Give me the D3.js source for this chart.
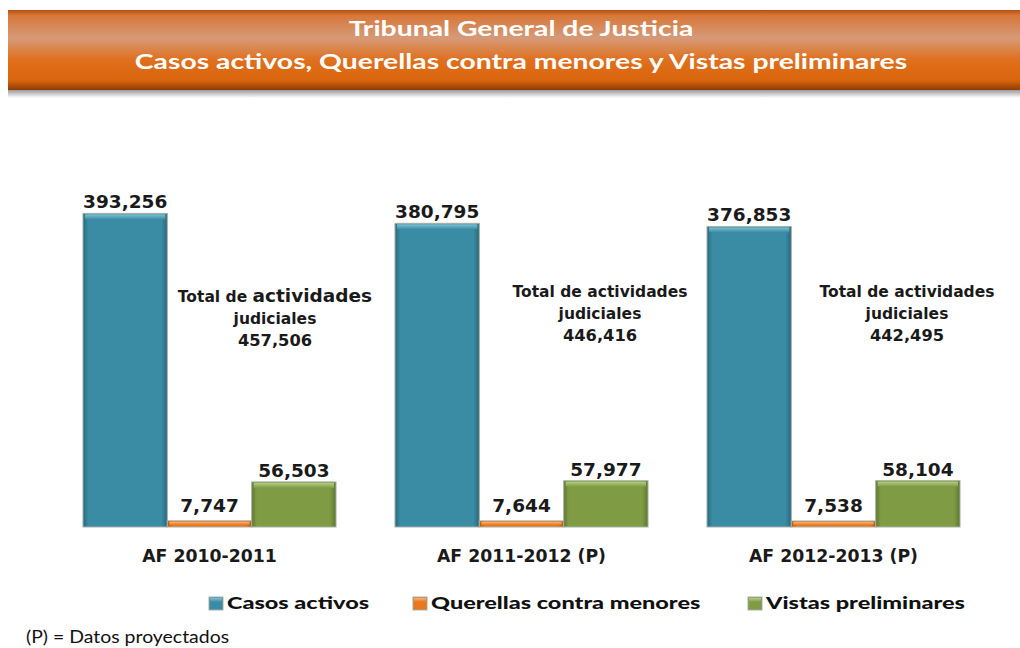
<!DOCTYPE html>
<html>
<head>
<meta charset="utf-8">
<script src="https://cdn.jsdelivr.net/npm/d3@7"></script>
<style>
  body { margin: 0; background: #fff; }
  svg { display: block; }
</style>
</head>
<body>
<svg id="chart" width="1020" height="648"></svg>
<script>
// data
var years = ["AF 2010-2011", "AF 2011-2012 (P)", "AF 2012-2013 (P)"];
var seriesNames = ["Casos activos", "Querellas contra menores", "Vistas preliminares"];
var casosActivos = [393256, 380795, 376853];
var querellas = [7747, 7644, 7538];
var vistas = [56503, 57977, 58104];
var seriesValues = [casosActivos, querellas, vistas];
var seriesColors = ["#3a8ca4", "#e8781e", "#7f9c44"];
var seriesDark = ["#27677a", "#b8550e", "#5d7630"];
var seriesLight = ["#7fc0d2", "#f7b27a", "#b3cd80"];

var svg = d3.select("#chart");
var fmt = d3.format(",");
var defs = svg.append("defs");
var wideFont = "Lato, 'Open Sans', sans-serif";
var boldFont = "'DejaVu Sans', sans-serif";

// ---- title banner
var bg = defs.append("linearGradient").attr("id", "banner").attr("x1", 0).attr("y1", 0).attr("x2", 0).attr("y2", 1);
[["0%", "#b8500e"], ["7%", "#d8783a"], ["35%", "#d59a78"], ["62%", "#e0701e"], ["88%", "#d9650c"], ["100%", "#8d3c06"]]
    .forEach(function (s) { bg.append("stop").attr("offset", s[0]).attr("stop-color", s[1]); });
var sh = defs.append("linearGradient").attr("id", "shadow").attr("x1", 0).attr("y1", 0).attr("x2", 0).attr("y2", 1);
sh.append("stop").attr("offset", "0%").attr("stop-color", "#9a9a9a");
sh.append("stop").attr("offset", "100%").attr("stop-color", "#ffffff");

svg.append("rect").attr("x", 8).attr("y", 90).attr("width", 1012).attr("height", 8).attr("fill", "url(#shadow)");
svg.append("rect").attr("x", 8).attr("y", 10).attr("width", 1012).attr("height", 80).attr("fill", "url(#banner)");

var titleLines = ["Tribunal General de Justicia", "Casos activos, Querellas contra menores y Vistas preliminares"];
var titleY = [36, 69];
svg.append("g").selectAll("text")
    .data(titleLines)
    .enter().append("text")
    .attr("transform", function (d, i) { return "translate(521," + titleY[i] + ") scale(1.35,1)"; })
    .attr("text-anchor", "middle")
    .attr("font-family", wideFont)
    .attr("font-weight", "bold")
    .attr("font-size", 21)
    .attr("fill", "#fff")
    .text(function (d) { return d; });

// ---- scales
var x0 = d3.scaleBand().domain(years).range([53.5, 989.5]).paddingInner(0.189).paddingOuter(0.0945);
var x1 = d3.scaleBand().domain(d3.range(seriesNames.length)).range([0, x0.bandwidth()]);
var y = d3.scaleLinear().domain([0, 400000]).range([527, 208]);

// gradients for bevelled bars
seriesColors.forEach(function (c, i) {
    var g = defs.append("linearGradient").attr("id", "side" + i).attr("x1", 0).attr("y1", 0).attr("x2", 1).attr("y2", 0);
    [["0%", seriesDark[i]], ["6%", c], ["93%", c], ["100%", seriesDark[i]]]
        .forEach(function (s) { g.append("stop").attr("offset", s[0]).attr("stop-color", s[1]); });
    var t = defs.append("linearGradient").attr("id", "top" + i).attr("x1", 0).attr("y1", 0).attr("x2", 0).attr("y2", 1);
    t.append("stop").attr("offset", "0%").attr("stop-color", seriesLight[i]);
    t.append("stop").attr("offset", "100%").attr("stop-color", c);
});

var groups = svg.append("g").selectAll("g")
    .data(years)
    .enter().append("g")
    .attr("transform", function (d) { return "translate(" + x0(d) + ",0)"; });

var bars = groups.selectAll("g.bar")
    .data(function (d, j) {
        return seriesValues.map(function (vals, i) { return { s: i, v: vals[j] }; });
    })
    .enter().append("g").attr("class", "bar");

bars.append("rect")
    .attr("x", function (d) { return x1(d.s); })
    .attr("y", function (d) { return y(d.v); })
    .attr("width", x1.bandwidth())
    .attr("height", function (d) { return y(0) - y(d.v); })
    .attr("fill", function (d) { return "url(#side" + d.s + ")"; })
    .attr("stroke", "#a9b0a6")
    .attr("stroke-width", 1);

bars.append("rect")
    .attr("x", function (d) { return x1(d.s) + 2; })
    .attr("y", function (d) { return y(d.v) + 1; })
    .attr("width", x1.bandwidth() - 4)
    .attr("height", function (d) { return Math.min(5, (y(0) - y(d.v)) / 2); })
    .attr("fill", function (d) { return "url(#top" + d.s + ")"; });

bars.append("text")
    .attr("x", function (d) { return x1(d.s) + x1.bandwidth() / 2; })
    .attr("y", function (d) { return y(d.v) - (d.s === 1 ? 9 : 5); })
    .attr("text-anchor", "middle")
    .attr("font-family", boldFont)
    .attr("font-weight", "bold")
    .attr("font-size", 18.5)
    .attr("fill", "#1a1a1a")
    .text(function (d) { return fmt(d.v); });

// category labels
groups.append("text")
    .attr("x", x0.bandwidth() / 2)
    .attr("y", 562)
    .attr("text-anchor", "middle")
    .attr("font-family", boldFont)
    .attr("font-weight", "bold")
    .attr("font-size", 17.3)
    .attr("fill", "#1a1a1a")
    .text(function (d) { return d; });

// total annotation
var totalX = [192, 205, 200];
var totalY = [302, 297, 297];
var total = groups.append("text")
    .attr("text-anchor", "middle")
    .attr("font-family", boldFont)
    .attr("font-weight", "bold")
    .attr("font-size", 15.5)
    .attr("fill", "#1a1a1a");
total.each(function (d, j) {
    var t = d3.select(this);
    var cx = totalX[j];
    var l1 = t.append("tspan").attr("x", cx).attr("y", totalY[j]).text("Total de ");
    l1.append("tspan").attr("font-size", j === 0 ? 18.5 : 15.5).text("actividades");
    t.append("tspan").attr("x", cx).attr("y", totalY[j] + 22).text("judiciales");
    t.append("tspan").attr("x", cx).attr("y", totalY[j] + 44).attr("font-size", 16.3)
        .text(fmt(d3.sum(seriesValues, function (vals) { return vals[j]; })));
});

// legend
var legendX = [209, 413, 748];
var legend = svg.append("g").selectAll("g")
    .data(seriesNames)
    .enter().append("g")
    .attr("transform", function (d, i) { return "translate(" + legendX[i] + ",597)"; });
legend.append("rect").attr("width", 14).attr("height", 13)
    .attr("fill", function (d, i) { return "url(#side" + i + ")"; })
    .attr("stroke", "#a9b0a6");
legend.append("rect").attr("x", 1).attr("y", 1).attr("width", 12).attr("height", 4)
    .attr("fill", function (d, i) { return "url(#top" + i + ")"; });
legend.append("text")
    .attr("transform", "translate(18,12) scale(1.34,1)")
    .attr("font-family", wideFont)
    .attr("font-weight", "900")
    .attr("font-size", 17.5)
    .attr("fill", "#111")
    .text(function (d) { return d; });

// footnote
svg.append("text")
    .attr("transform", "translate(26,643) scale(1.08,1)")
    .attr("font-family", wideFont)
    .attr("font-size", 18)
    .attr("fill", "#111")
    .text("(P) = Datos proyectados");
</script>
</body>
</html>
